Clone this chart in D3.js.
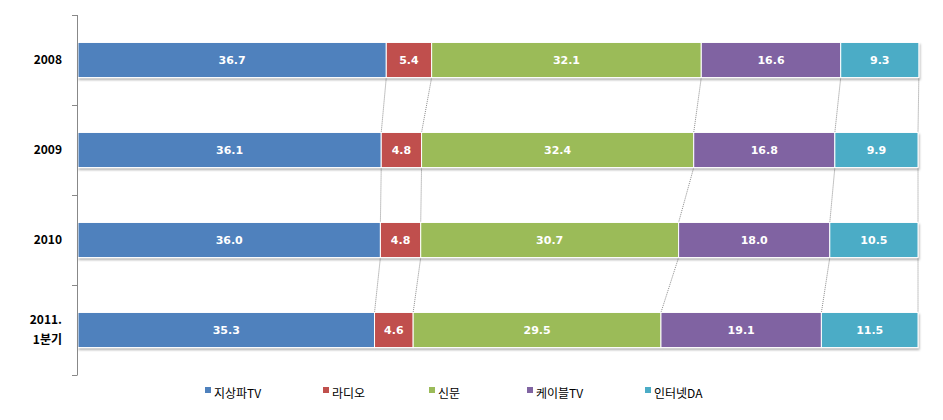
<!DOCTYPE html>
<html><head><meta charset="utf-8">
<script src="https://cdn.jsdelivr.net/npm/d3@7"></script>
<style>body{margin:0;background:#fff}svg{display:block}</style>
</head><body>
<svg id="c" width="943" height="420"></svg>
<script>
const categories = ["2008","2009","2010","2011.\n1분기"];
const seriesNames = ["지상파TV","라디오","신문","케이블TV","인터넷DA"];
const colors = ["#4F81BD","#C0504D","#9BBB59","#8064A2","#4BACC6"];
const tv = [36.7,36.1,36.0,35.3];
const radio = [5.4,4.8,4.8,4.6];
const paper = [32.1,32.4,30.7,29.5];
const cable = [16.6,16.8,18.0,19.1];
const internet = [9.3,9.9,10.5,11.5];
const seriesValues = [tv,radio,paper,cable,internet];

const svg = d3.select("#c");
const x = d3.scaleLinear().domain([0,100]).range([78,918]);
const y = d3.scaleBand().domain(categories).range([15,375]).paddingInner(0.61).paddingOuter(0.305);

const stacks = categories.map((c,i)=>{
  let acc=0;
  return seriesValues.map((s,k)=>{const x0=acc; acc+=s[i]; return {c,k,x0,x1:acc,v:s[i]};});
});

const defs = svg.append("defs");
const f = defs.append("filter").attr("id","sh").attr("x","-5%").attr("y","-20%").attr("width","110%").attr("height","150%");
f.append("feDropShadow").attr("dx",1).attr("dy",2).attr("stdDeviation",1.2).attr("flood-color","#000").attr("flood-opacity",0.3);

// series lines
const lineG = svg.append("g");
for(let i=0;i<categories.length-1;i++){
  for(let k=0;k<5;k++){
    const a=stacks[i][k], b=stacks[i+1][k];
    lineG.append("line")
      .attr("x1",x(a.x1)).attr("y1",y(categories[i])+y.bandwidth())
      .attr("x2",x(b.x1)).attr("y2",y(categories[i+1]))
      .attr("stroke","#8c8c8c").attr("stroke-width",1).attr("stroke-dasharray","1,1");
  }
}

// bars
const barG = svg.append("g");
stacks.forEach((row,i)=>{
  const g = barG.append("g").attr("filter","url(#sh)");
  row.forEach(d=>{
    g.append("rect").attr("x",x(d.x0)).attr("y",y(d.c))
      .attr("width",x(d.x1)-x(d.x0)).attr("height",y.bandwidth())
      .attr("fill",colors[d.k]).attr("stroke","#fff").attr("stroke-width",1);
  });
  row.forEach(d=>{
    barG.append("text").attr("x",(x(d.x0)+x(d.x1))/2).attr("y",y(d.c)+y.bandwidth()/2+4)
      .attr("text-anchor","middle").attr("fill","#fff")
      .attr("font-family","Tahoma, 'DejaVu Sans', sans-serif").attr("font-weight","bold").attr("font-size","11px")
      .text(d.v.toFixed(1));
  });
});

// axis
const ax = svg.append("g");
ax.append("line").attr("x1",77.5).attr("x2",77.5).attr("y1",15).attr("y2",375).attr("stroke","#888");
const ticks = [0,1,2,3,4].map(i=>15+i*y.step());
ticks.forEach(t=>ax.append("line").attr("x1",72).attr("x2",77.5).attr("y1",Math.round(t)+0.5).attr("y2",Math.round(t)+0.5).attr("stroke","#888"));
categories.forEach(c=>{
  const lines=c.split("\n");
  const cy=y(c)+y.bandwidth()/2;
  lines.forEach((l,j)=>{
    ax.append("text").attr("x",62).attr("y",cy+4+(j-(lines.length-1)/2)*20)
      .attr("text-anchor","end").attr("font-family","'Noto Sans CJK KR', 'DejaVu Sans', sans-serif")
      .attr("font-weight","bold").attr("font-size","12px").attr("fill","#000").text(l);
  });
});

// legend
const legX = [205,323,429,527,645];
const leg = svg.append("g");
seriesNames.forEach((n,k)=>{
  leg.append("rect").attr("x",legX[k]).attr("y",387).attr("width",6).attr("height",6).attr("fill",colors[k]);
  leg.append("text").attr("x",legX[k]+9).attr("y",398).attr("font-family","'Noto Sans CJK KR', sans-serif")
    .attr("font-size","12px").attr("fill","#000").text(n);
});
</script>
</body></html>
